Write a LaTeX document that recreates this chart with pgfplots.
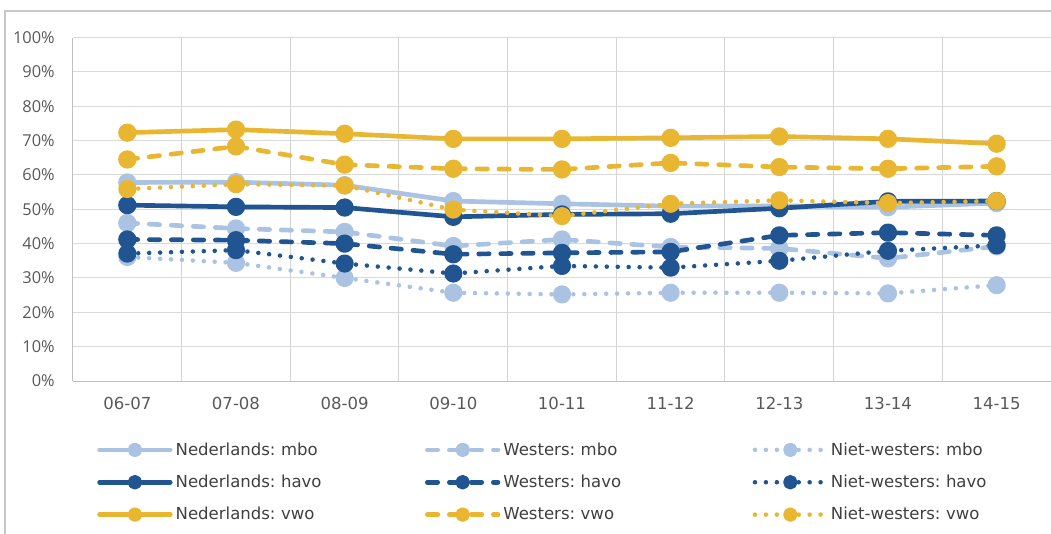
\documentclass[border=0pt]{standalone}
\usepackage{pgfplots}
\usepackage{pgfplotstable}
\pgfplotsset{compat=1.18}
\usepackage{fontspec}
\setmainfont{DejaVu Sans}
\newfontfamily\tickfont{Open Sans}
\frenchspacing
\definecolor{lblue}{RGB}{171,195,226}
\definecolor{dblue}{RGB}{32,85,146}
\definecolor{gold}{RGB}{232,182,48}
\definecolor{ticktxt}{RGB}{89,89,89}
\definecolor{legtxt}{RGB}{64,64,64}

\pgfplotstableread{
x NedMbo WestMbo NWMbo NedHavo WestHavo NWHavo NedVwo WestVwo NWVwo
0 57.8 46.0 36.1 51.2 41.2 37.1 72.3 64.5 55.9
1 57.9 44.4 34.4 50.7 41.0 38.1 73.2 68.3 57.3
2 57.0 43.4 30.0 50.5 40.0 34.2 72.0 63.0 56.9
3 52.4 39.3 25.7 47.8 36.9 31.3 70.5 61.8 49.9
4 51.6 41.2 25.2 48.5 37.3 33.5 70.5 61.6 48.0
5 50.9 39.0 25.7 48.7 37.6 33.0 70.8 63.5 51.6
6 51.0 38.6 25.7 50.3 42.4 35.0 71.2 62.3 52.6
7 50.6 35.7 25.5 52.3 43.2 37.9 70.5 61.8 51.8
8 51.8 39.2 27.9 52.4 42.4 39.5 69.1 62.5 52.4
}\data

\begin{document}
\begin{tikzpicture}
\path[use as bounding box] (-54.75pt,-114pt) rectangle (733.5pt,285.75pt);
\draw[black!22, line width=1.1pt] (-51pt,-130pt) -- (-51pt,277.5pt) -- (760pt,277.5pt);
\begin{axis}[
  at={(0pt,0pt)}, anchor=south west,
  scale only axis, width=733.5pt, height=257.6pt,
  xmin=-0.5, xmax=8.5, ymin=0, ymax=100,
  axis x line*=bottom, axis y line*=left,
  axis line style={draw=black!25, line width=0.75pt},
  xtick={0,...,8},
  xticklabels={06-07,07-08,08-09,09-10,10-11,11-12,12-13,13-14,14-15},
  minor xtick={-0.5,0.5,1.5,2.5,3.5,4.5,5.5,6.5,7.5},
  minor x grid style={draw=black!17, line width=0.75pt},
  xminorgrids=true,
  ytick={0,10,...,100},
  yticklabel={\pgfmathprintnumber{\tick}\%},
  ymajorgrids=true,
  major grid style={draw=black!15, line width=0.75pt},
  major tick length=0pt, minor tick length=0pt,
  /pgf/number format/assume math mode=true,
  yticklabel style={font=\tickfont\fontsize{12.3}{14}\selectfont, text=ticktxt, inner sep=0pt, xshift=-13.5pt},
  xticklabel style={font=\fontsize{12.4}{14}\selectfont, text=ticktxt, inner sep=0pt, yshift=-12pt},
  clip=false,
  every axis plot/.append style={line width=3.5pt, mark=*, mark size=5.1pt, line join=round, line cap=round},
  legend columns=3,
  legend image code/.code={\draw[mark repeat=2, mark phase=2, #1, mark size=3.7pt] plot coordinates {(0pt,0pt)(26.5pt,0pt)(53pt,0pt)};},
  legend style={at={(axis description cs:0,0)}, anchor=north west, xshift=18pt, yshift=-46pt,
    draw=none, fill=none, inner sep=0pt, row sep=13.35pt,
    font=\fontsize{12.4}{14}\selectfont, text=legtxt,
    nodes={inner sep=0pt, text width=180pt, align=left},
    /tikz/every odd column/.append style={column sep=2.3pt},
    /tikz/every even column/.append style={column sep=7pt}},
  legend cell align=left,
]
\addplot[lblue] table[x=x,y=NedMbo]{\data};
\addlegendentry{Nederlands: mbo}
\addplot[lblue, dash pattern=on 7.8pt off 8.7pt, mark options={solid}] table[x=x,y=WestMbo]{\data};
\addlegendentry{Westers: mbo}
\addplot[lblue, line width=3.4pt, dash pattern=on 0pt off 8.2pt, mark options={solid}] table[x=x,y=NWMbo]{\data};
\addlegendentry{Niet-westers: mbo}
\addplot[dblue] table[x=x,y=NedHavo]{\data};
\addlegendentry{Nederlands: havo}
\addplot[dblue, dash pattern=on 7.8pt off 8.7pt, mark options={solid}] table[x=x,y=WestHavo]{\data};
\addlegendentry{Westers: havo}
\addplot[dblue, line width=3.4pt, dash pattern=on 0pt off 8.2pt, mark options={solid}] table[x=x,y=NWHavo]{\data};
\addlegendentry{Niet-westers: havo}
\addplot[gold] table[x=x,y=NedVwo]{\data};
\addlegendentry{Nederlands: vwo}
\addplot[gold, dash pattern=on 7.8pt off 8.7pt, mark options={solid}] table[x=x,y=WestVwo]{\data};
\addlegendentry{Westers: vwo}
\addplot[gold, line width=3.4pt, dash pattern=on 0pt off 8.2pt, mark options={solid}] table[x=x,y=NWVwo]{\data};
\addlegendentry{Niet-westers: vwo}
\end{axis}
\end{tikzpicture}
\end{document}
